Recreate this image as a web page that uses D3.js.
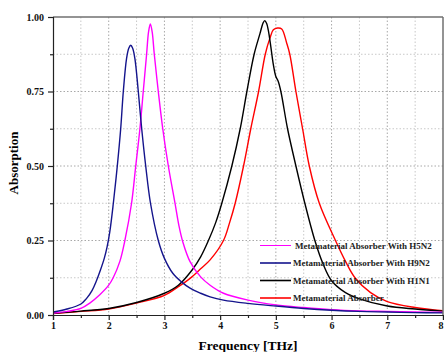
<!DOCTYPE html>
<html>
<head>
<meta charset="utf-8">
<script src="https://cdn.jsdelivr.net/npm/d3@7"></script>
<style>
  body { margin: 0; background: #fff; }
  svg text { font-family: "Liberation Serif", "Times New Roman", serif; font-weight: bold; }
</style>
</head>
<body>
<svg id="chart" width="444" height="352"></svg>
<script>
// series: frequency [THz] and absorption
const seriesNames = ["Metamaterial Absorber With H5N2", "Metamaterial Absorber With H9N2",
  "Metamaterial Absorber With H1N1", "Metamaterial Absorber"]
const seriesColors = ["#ff00ff", "#14148c", "#000000", "#ff0000"]

const h5n2Freq = [1, 1.25, 1.5, 1.66, 1.84, 2.0, 2.08, 2.2, 2.29, 2.41, 2.485, 2.56, 2.62, 2.68, 2.715, 2.747, 2.78, 2.818, 2.89, 2.97, 3.07, 3.19, 3.26, 3.33, 3.46, 3.65, 3.82, 4.06, 4.5, 5.0, 5.5, 6.0, 6.5, 7, 7.5, 8]
const h5n2Abs = [0.006, 0.012, 0.022, 0.040, 0.068, 0.10, 0.125, 0.18, 0.25, 0.375, 0.5, 0.625, 0.75, 0.875, 0.95, 0.977, 0.95, 0.875, 0.75, 0.625, 0.5, 0.375, 0.30, 0.245, 0.179, 0.128, 0.10, 0.073, 0.05, 0.034, 0.025, 0.018, 0.014, 0.012, 0.010, 0.009]

const h9n2Freq = [1, 1.25, 1.5, 1.6, 1.7, 1.78, 1.85, 1.92, 1.97, 2.02, 2.083, 2.154, 2.215, 2.262, 2.32, 2.36, 2.395, 2.43, 2.47, 2.531, 2.592, 2.664, 2.75, 2.89, 3.0, 3.15, 3.3, 3.46, 3.65, 3.82, 4.06, 4.5, 5.0, 5.5, 6.0, 6.5, 7, 7.5, 8]
const h9n2Abs = [0.010, 0.020, 0.037, 0.055, 0.082, 0.115, 0.15, 0.19, 0.228, 0.28, 0.375, 0.5, 0.625, 0.75, 0.86, 0.895, 0.905, 0.895, 0.86, 0.75, 0.625, 0.5, 0.375, 0.25, 0.19, 0.14, 0.112, 0.09, 0.073, 0.061, 0.05, 0.039, 0.03, 0.022, 0.016, 0.012, 0.010, 0.008, 0.007]

const h1n1Freq = [1, 1.5, 2.0, 2.5, 3.0, 3.25, 3.5, 3.65, 3.79, 3.92, 4.03, 4.21, 4.36, 4.48, 4.61, 4.716, 4.77, 4.80, 4.835, 4.865, 4.91, 4.955, 5.0, 5.04, 5.09, 5.21, 5.36, 5.52, 5.7, 5.85, 6.0, 6.25, 6.5, 7, 7.5, 8]
const h1n1Abs = [0.006, 0.013, 0.022, 0.042, 0.073, 0.10, 0.152, 0.195, 0.25, 0.31, 0.375, 0.5, 0.625, 0.75, 0.875, 0.945, 0.98, 0.988, 0.978, 0.955, 0.9, 0.84, 0.80, 0.785, 0.75, 0.625, 0.5, 0.375, 0.25, 0.17, 0.115, 0.075, 0.054, 0.03, 0.02, 0.013]

const plainFreq = [1, 1.5, 2.0, 2.5, 3.0, 3.25, 3.46, 3.65, 3.82, 4.06, 4.17, 4.27, 4.42, 4.55, 4.69, 4.81, 4.895, 4.955, 5.03, 5.105, 5.195, 5.25, 5.36, 5.48, 5.60, 5.78, 6.07, 6.25, 6.42, 6.7, 7, 7.5, 8]
const plainAbs = [0.005, 0.012, 0.02, 0.04, 0.066, 0.095, 0.123, 0.155, 0.185, 0.25, 0.31, 0.375, 0.5, 0.625, 0.75, 0.875, 0.93, 0.957, 0.963, 0.96, 0.912, 0.875, 0.75, 0.625, 0.5, 0.375, 0.25, 0.18, 0.125, 0.075, 0.045, 0.025, 0.014]

const xTicks = [1, 2, 3, 4, 5, 6, 7, 8]
const yTicks = [0, 0.25, 0.5, 0.75, 1.0]

const svg = d3.select("#chart")
const plotLeft = 53, plotTop = 17, plotRight = 443, plotBottom = 315

const x = d3.scaleLinear().domain([1, 8]).range([plotLeft, plotRight])
const y = d3.scaleLinear().domain([0, 1]).range([plotBottom, plotTop])

// grid, minor and major, all dotted
const xMinor = d3.range(1.5, 8, 1)
const yMinor = d3.range(0.125, 1, 0.25)

const grid = svg.append("g")
grid.selectAll(".vminor").data(xMinor).enter().append("line")
  .attr("x1", d => x(d)).attr("x2", d => x(d)).attr("y1", plotTop).attr("y2", plotBottom)
  .attr("stroke", "#c8c8c8").attr("stroke-dasharray", "1.5,2")
grid.selectAll(".vmajor").data(xTicks.slice(1, -1)).enter().append("line")
  .attr("x1", d => x(d)).attr("x2", d => x(d)).attr("y1", plotTop).attr("y2", plotBottom)
  .attr("stroke", "#a8a8a8").attr("stroke-dasharray", "1.5,2")
grid.selectAll(".hminor").data(yMinor).enter().append("line")
  .attr("x1", plotLeft).attr("x2", plotRight).attr("y1", d => y(d)).attr("y2", d => y(d))
  .attr("stroke", "#c8c8c8").attr("stroke-dasharray", "1.5,2")
grid.selectAll(".hmajor").data(yTicks.slice(1, -1)).enter().append("line")
  .attr("x1", plotLeft).attr("x2", plotRight).attr("y1", d => y(d)).attr("y2", d => y(d))
  .attr("stroke", "#a8a8a8").attr("stroke-dasharray", "1.5,2")

// curves
svg.append("clipPath").attr("id", "plot")
  .append("rect").attr("x", plotLeft).attr("y", plotTop)
  .attr("width", plotRight - plotLeft).attr("height", plotBottom - plotTop)

const line = d3.line().x(d => x(d[0])).y(d => y(d[1])).curve(d3.curveCatmullRom.alpha(0.5))
const allSeries = [
  d3.zip(h5n2Freq, h5n2Abs),
  d3.zip(h9n2Freq, h9n2Abs),
  d3.zip(h1n1Freq, h1n1Abs),
  d3.zip(plainFreq, plainAbs)
]
const curves = svg.append("g").attr("clip-path", "url(#plot)")
// red first so black sits on top, like the original
;[3, 2, 0, 1].forEach(function (i) {
  curves.append("path")
    .datum(allSeries[i])
    .attr("fill", "none")
    .attr("stroke", seriesColors[i])
    .attr("stroke-width", 1.4)
    .attr("d", line)
})

// frame
svg.append("line").attr("x1", plotLeft).attr("x2", plotRight).attr("y1", plotTop).attr("y2", plotTop)
  .attr("stroke", "#707070").attr("stroke-width", 1.5)
svg.append("line").attr("x1", plotRight).attr("x2", plotRight).attr("y1", plotTop).attr("y2", plotBottom)
  .attr("stroke", "#707070").attr("stroke-width", 1.5)

// axes
const xAxis = svg.append("g").attr("transform", "translate(0," + plotBottom + ")")
  .call(d3.axisBottom(x).tickValues(xTicks).tickFormat(d3.format("d")).tickSize(5).tickPadding(2))
const yAxis = svg.append("g").attr("transform", "translate(" + plotLeft + ",0)")
  .call(d3.axisLeft(y).tickValues(yTicks).tickFormat(d3.format(".2f")).tickSize(5).tickPadding(4))

svg.append("g").attr("transform", "translate(0," + plotBottom + ")")
  .call(d3.axisBottom(x).tickValues(xMinor).tickFormat("").tickSize(3))
  .call(g => g.select(".domain").remove())
svg.append("g").attr("transform", "translate(" + plotLeft + ",0)")
  .call(d3.axisLeft(y).tickValues(yMinor).tickFormat("").tickSize(3))
  .call(g => g.select(".domain").remove())

svg.selectAll(".domain, .tick line").attr("stroke", "#222").attr("stroke-width", 1.2)
xAxis.selectAll("text").attr("font-size", 10).attr("fill", "#111")
yAxis.selectAll("text").attr("font-size", 10).attr("fill", "#111")
// last x label sits on the window edge, nudge it in
xAxis.selectAll("text").filter(d => d === 8).attr("dx", -2.5)

// axis titles
svg.append("text")
  .attr("x", 248).attr("y", 350)
  .attr("text-anchor", "middle")
  .attr("font-size", 13.5)
  .text("Frequency [THz]")

svg.append("text")
  .attr("transform", "translate(18,163) rotate(-90)")
  .attr("text-anchor", "middle")
  .attr("font-size", 13)
  .text("Absorption")

// legend
const legendY = [245.5, 263, 280.5, 298]
const legend = svg.selectAll(".legend")
  .data(seriesNames)
  .enter().append("g")
  .attr("transform", (d, i) => "translate(260," + legendY[i] + ")")

legend.append("line")
  .attr("x1", 0).attr("x2", 31).attr("y1", 0).attr("y2", 0)
  .attr("stroke", (d, i) => seriesColors[i])
  .attr("stroke-width", (d, i) => i === 0 ? 1 : 1.6)

legend.append("text")
  .attr("x", (d, i) => i === 0 ? 35 : 33)
  .attr("y", 3)
  .attr("font-size", 9)
  .attr("fill", "#222")
  .text(d => d)
</script>
</body>
</html>
